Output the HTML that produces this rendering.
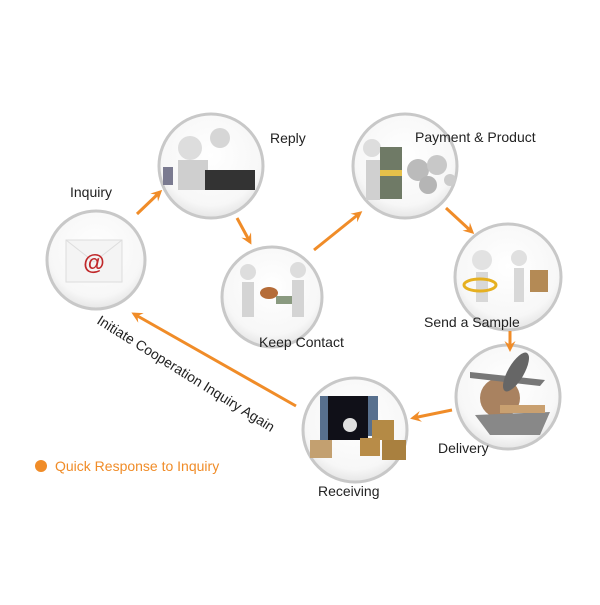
<!DOCTYPE html>
<html><head><style>
body{margin:0;background:#fff;}
svg text{font-family:"Liberation Sans",sans-serif;}
</style></head><body>
<svg width="600" height="600" viewBox="0 0 600 600" xmlns="http://www.w3.org/2000/svg">
<defs>
<radialGradient id="g" cx="50%" cy="40%" r="60%"><stop offset="0" stop-color="#fff"/><stop offset="0.8" stop-color="#f7f7f7"/><stop offset="1" stop-color="#e6e6e6"/></radialGradient>
<marker id="ah" markerWidth="11" markerHeight="11" refX="8" refY="5.5" orient="auto" markerUnits="userSpaceOnUse"><path d="M0,0 L11,5.5 L0,11 L4,5.5 Z" fill="#f08c28"/></marker>
</defs>
<g stroke="#c8c8c8" stroke-width="3" fill="url(#g)">
<circle cx="96" cy="260" r="49"/>
<circle cx="211" cy="166" r="52"/>
<circle cx="272" cy="297" r="50"/>
<circle cx="405" cy="166" r="52"/>
<circle cx="508" cy="277" r="53"/>
<circle cx="508" cy="397" r="52"/>
<circle cx="355" cy="430" r="52"/>
</g>
<rect x="66" y="240" width="56" height="42" fill="#f4f4f4" stroke="#ddd"/>
<path d="M66,240 L94,262 L122,240" fill="none" stroke="#ddd"/>
<text x="94" y="270" font-size="22" fill="#c0282a" text-anchor="middle" font-weight="bold">@</text>
<circle cx="190" cy="148" r="12" fill="#ddd"/><rect x="178" y="160" width="30" height="30" fill="#cfcfcf"/>
<rect x="205" y="170" width="50" height="20" fill="#333"/><circle cx="220" cy="138" r="10" fill="#d6d6d6"/>
<rect x="163" y="167" width="10" height="18" fill="#7a7a90"/>
<circle cx="248" cy="272" r="8" fill="#ddd"/><rect x="242" y="282" width="12" height="35" fill="#d4d4d4"/>
<circle cx="298" cy="270" r="8" fill="#ddd"/><rect x="292" y="280" width="12" height="37" fill="#d4d4d4"/>
<ellipse cx="269" cy="293" rx="9" ry="6" fill="#b56c38"/><rect x="276" y="296" width="16" height="8" fill="#8a9a80"/>
<circle cx="372" cy="148" r="9" fill="#ddd"/><rect x="366" y="160" width="14" height="40" fill="#d0d0d0"/>
<rect x="380" y="147" width="22" height="52" fill="#6f7a66"/><rect x="380" y="170" width="22" height="6" fill="#e5c04a"/>
<circle cx="418" cy="170" r="11" fill="#bbb"/><circle cx="437" cy="165" r="10" fill="#c8c8c8"/><circle cx="428" cy="185" r="9" fill="#b5b5b5"/><circle cx="450" cy="180" r="6" fill="#ccc"/>
<circle cx="482" cy="260" r="10" fill="#e2e2e2"/><rect x="476" y="272" width="12" height="30" fill="#d8d8d8"/>
<ellipse cx="480" cy="285" rx="16" ry="6" fill="none" stroke="#e6b020" stroke-width="3"/>
<circle cx="519" cy="258" r="8" fill="#e0e0e0"/><rect x="514" y="268" width="10" height="34" fill="#d8d8d8"/>
<rect x="530" y="270" width="18" height="22" fill="#b48a55"/>
<circle cx="500" cy="398" r="20" fill="#a98260"/>
<path d="M470,372 L545,380 L540,386 L470,378Z" fill="#777"/>
<ellipse cx="516" cy="372" rx="8" ry="22" fill="#666" transform="rotate(30 516 372)"/>
<path d="M475,415 L550,412 L540,435 L490,435Z" fill="#888"/><rect x="500" y="405" width="45" height="8" fill="#c9a070"/>
<rect x="328" y="396" width="40" height="44" fill="#101018"/><rect x="320" y="396" width="8" height="44" fill="#58708e"/><rect x="368" y="396" width="10" height="40" fill="#58708e"/>
<rect x="372" y="420" width="22" height="20" fill="#b48a45"/><rect x="382" y="440" width="24" height="20" fill="#a9803f"/><rect x="360" y="438" width="20" height="18" fill="#b88c48"/>
<rect x="310" y="440" width="22" height="18" fill="#c3a070"/><circle cx="350" cy="425" r="7" fill="#e0e0e0"/>
<g stroke="#f08c28" stroke-width="3" fill="none" marker-end="url(#ah)">
<line x1="137" y1="214" x2="160" y2="192"/>
<line x1="237" y1="218" x2="250" y2="242"/>
<line x1="314" y1="250" x2="360" y2="213"/>
<line x1="446" y1="208" x2="472" y2="232"/>
<line x1="510" y1="331" x2="510" y2="349"/>
<line x1="452" y1="410" x2="413" y2="418"/>
<line x1="296" y1="406" x2="134" y2="314"/>
</g>
<g font-size="14" fill="#222">
<text x="70" y="197">Inquiry</text>
<text x="270" y="143">Reply</text>
<text x="415" y="142">Payment &amp; Product</text>
<text x="259" y="347">Keep Contact</text>
<text x="424" y="327">Send a Sample</text>
<text x="438" y="453">Delivery</text>
<text x="318" y="496">Receiving</text>
<text x="0" y="0" transform="translate(96,323) rotate(32)">Initiate Cooperation Inquiry Again</text>
</g>
<circle cx="41" cy="466" r="6" fill="#f08c28"/>
<text x="55" y="471" font-size="14" fill="#f08c28">Quick Response to Inquiry</text>
</svg>
</body></html>
